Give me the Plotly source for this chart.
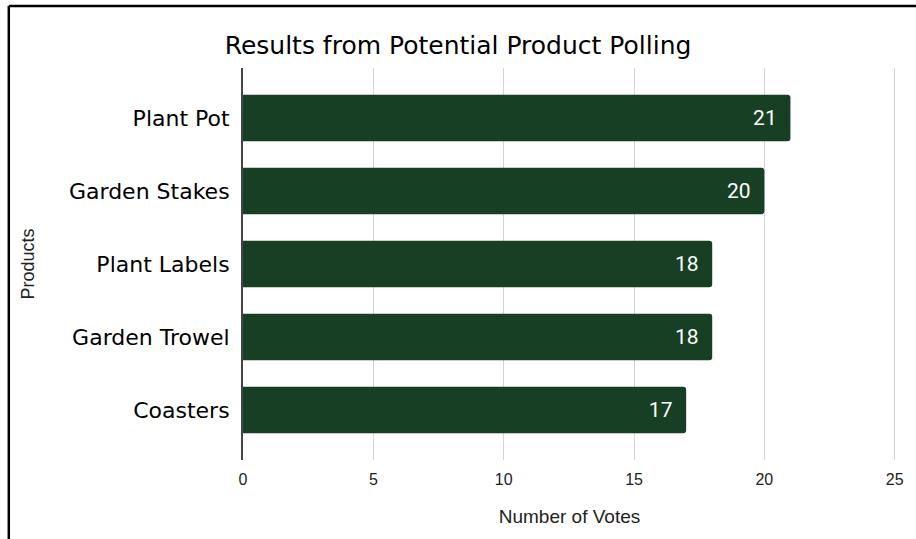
import plotly.graph_objects as go

products = ["Plant Pot", "Garden Stakes", "Plant Labels", "Garden Trowel", "Coasters"]
votes = [21, 20, 18, 18, 17]
x_ticks = [0, 5, 10, 15, 20, 25]

W, H = 916, 539
L, R, T, B = 243, 15, 68, 79
pw, ph = W - L - R, H - T - B

def px_x(p):
    return (p - L) / pw

def px_y(p):
    return (H - B - p) / ph

fig = go.Figure(go.Bar(
    x=votes, y=products, orientation="h",
    marker=dict(color="#173f24", cornerradius=3, line=dict(width=0)),
    text=[f"{v}\u2002" for v in votes], textposition="inside", insidetextanchor="end",
    textfont=dict(family="Roboto", size=21, color="white"),
    width=0.64,
))

fig.update_layout(
    width=W, height=H,
    margin=dict(l=L, r=R, t=T, b=B),
    plot_bgcolor="white", paper_bgcolor="white",
    showlegend=False,
    title=dict(text="Results from Potential Product Polling", x=0.5, xref="container",
               xanchor="center", y=1 - 45 / H, yanchor="middle",
               font=dict(family="DejaVu Sans", size=25, color="#000")),
    xaxis=dict(range=[0, 25.05], tickvals=x_ticks, showgrid=True, gridcolor="#d3d3d3",
               gridwidth=1, zeroline=False, showline=False, ticks="",
               ticklabelstandoff=8,
               tickfont=dict(family="Liberation Sans, Arial", size=16, color="#222"),
               title=dict(text="Number of Votes", standoff=22,
                          font=dict(family="Liberation Sans, Arial", size=19, color="#222"))),
    yaxis=dict(categoryorder="array", categoryarray=products,
               range=[4.685, -0.685], showgrid=False, zeroline=False,
               showline=True, linecolor="#444", linewidth=2, ticks="",
               ticksuffix=" ",
               tickfont=dict(family="DejaVu Sans", size=22, color="#000"),
               title=dict(text="Products", standoff=30,
                          font=dict(family="Liberation Sans, Arial", size=18, color="#222"))),
)

fig.add_shape(type="line", xref="paper", yref="paper",
              x0=px_x(7), x1=px_x(7), y0=px_y(6), y1=px_y(H + 10),
              line=dict(color="black", width=2.5))
fig.add_shape(type="line", xref="paper", yref="paper",
              x0=px_x(7), x1=px_x(W + 10), y0=px_y(6), y1=px_y(6),
              line=dict(color="black", width=2.5))

fig.write_html("out.html", config={"displayModeBar": False},
               post_script="document.body.style.margin='0';")
